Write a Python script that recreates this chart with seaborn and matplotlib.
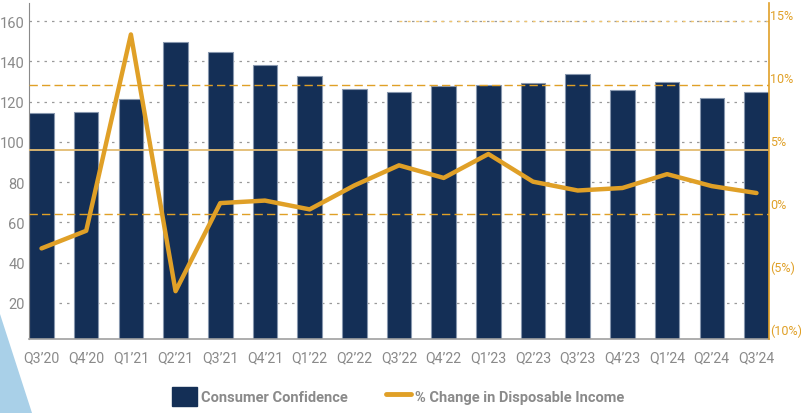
import numpy as np
import pandas as pd
import matplotlib.pyplot as plt
import matplotlib.ticker as mtick
from matplotlib.lines import Line2D
from matplotlib.patches import Patch, Polygon
import seaborn as sns

quarters = ["Q3’20", "Q4’20", "Q1’21", "Q2’21", "Q3’21", "Q4’21", "Q1’22", "Q2’22", "Q3’22",
            "Q4’22", "Q1’23", "Q2’23", "Q3’23", "Q4’23", "Q1’24", "Q2’24", "Q3’24"]
confidence = [114.4, 114.8, 121.2, 149.4, 144.4, 138.1, 132.5, 126.5, 125.0,
              127.5, 128.0, 129.0, 133.5, 126.0, 129.5, 122.0, 125.0]
income_chg = [-3.6, -2.2, 13.4, -7.0, 0.0, 0.2, -0.5, 1.4, 3.0,
              2.0, 3.9, 1.7, 1.0, 1.2, 2.3, 1.35, 0.8]
ref_solid = 96
ref_dashed = [64, 128]
ref_top = 160
ref_top_start = 8  # Q3'22

NAVY = "#142F56"
GOLD = "#E0A027"
GRAY = "#8A8A8A"

sns.set_style("white")
plt.rcParams["font.family"] = ["Roboto", "DejaVu Sans"]

df = pd.DataFrame({"quarter": quarters, "confidence": confidence, "income": income_chg})
df["pos"] = np.arange(len(df))

fig = plt.figure(figsize=(8.01, 4.14), dpi=100)
ax = fig.add_axes([29 / 801, 1 - 340 / 414, 740 / 801, 336 / 414])

# decorative wedge bottom-left
fig.patches.append(Polygon([[0, 0], [0, 1 - 315 / 414], [32 / 801, 0]], closed=True,
                           transform=fig.transFigure, facecolor="#A9D0E8", edgecolor="none", zorder=0))

sns.barplot(data=df, x="quarter", y="confidence", order=quarters, color=NAVY, width=0.55,
            saturation=1, edgecolor="#8797AE", linewidth=0.8, ax=ax, zorder=2)
x0, x1 = -0.28, len(quarters) - 0.72
ax.set_xlim(x0, x1)
ax.set_ylim(2, 169)
ax.set_yticks([20, 40, 60, 80, 100, 120, 140, 160])
ax.grid(axis="y", color="#9A9A9A", linestyle=(0, (2, 4)), linewidth=0.9)
for gl in ax.get_ygridlines():
    gl.set_zorder(3)
ax.set_xlabel("")
ax.set_ylabel("")
ax.tick_params(axis="x", length=0, labelsize=10.2, labelcolor=GRAY, pad=8)
ax.tick_params(axis="y", length=0, labelsize=10.5, labelcolor=GRAY, pad=3)
for s in ["top", "right"]:
    ax.spines[s].set_visible(False)
ax.spines["left"].set_color(GRAY)
ax.spines["bottom"].set_color("#A0A0A0")
ax.spines["bottom"].set_linewidth(1.2)

# reference lines
ax.axhline(ref_solid, color="#E3BC72", linewidth=1.3, zorder=4)
for v in ref_dashed:
    ax.axhline(v, color=GOLD, linestyle=(0, (6, 3)), linewidth=1.0, zorder=4)
ax.axhline(ref_top, xmin=(ref_top_start - x0) / (x1 - x0), color="#F1C56E",
           linestyle=(0, (2, 4)), linewidth=1.0, zorder=4)

ax2 = ax.twinx()
sns.lineplot(data=df, x="pos", y="income", color=GOLD, linewidth=3.2, ax=ax2, zorder=5)
ax2.set_ylim(-10.8, 15.9)
ax2.set_yticks([-10, -5, 0, 5, 10, 15])
ax2.yaxis.set_major_formatter(mtick.FuncFormatter(
    lambda v, _: f"({abs(v):.0f}%)" if v < 0 else f"{v:.0f}%"))
ax2.set_ylabel("")
ax2.set_xlabel("")
ax2.tick_params(axis="y", length=0, labelsize=9, labelcolor=GOLD, pad=1)
for s in ["top", "left", "bottom"]:
    ax2.spines[s].set_visible(False)
ax2.spines["right"].set_color(GOLD)
ax2.spines["right"].set_linewidth(1.2)

handles = [Patch(facecolor=NAVY, edgecolor=NAVY),
           Line2D([0], [0], color=GOLD, linewidth=3.5)]
labels = ["Consumer Confidence", "% Change in Disposable Income"]
leg = fig.legend(handles, labels, loc="lower center", bbox_to_anchor=(0.497, -0.015), ncol=2,
                 frameon=False, fontsize=10.5, handlelength=1.7, handleheight=1.6,
                 columnspacing=2.6, handletextpad=0.3)
for t in leg.get_texts():
    t.set_color(GRAY)
    t.set_fontweight("bold")

fig.savefig("out.png", dpi=100)
